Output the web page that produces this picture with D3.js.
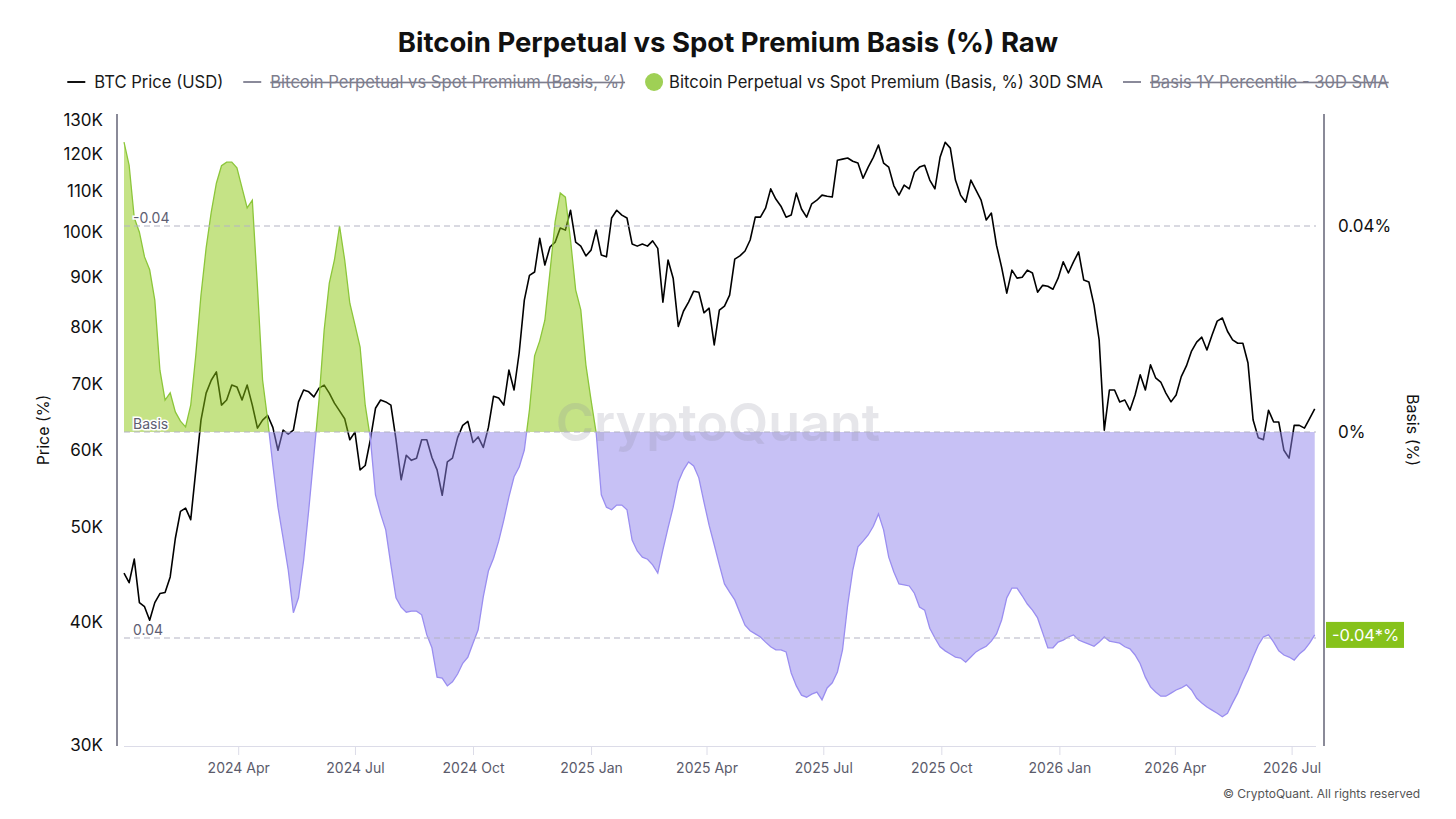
<!DOCTYPE html>
<html>
<head>
<meta charset="utf-8">
<script src="https://cdn.jsdelivr.net/npm/d3@7"></script>
<style>
    body { margin: 0; background: #fff; }
    svg { display: block; font-family: Inter, 'Noto Sans', Roboto, sans-serif; }
</style>
</head>
<body>
<div id="chart-area"></div>
<script>

// data: one point every 4 days from the start date
var startDate = '2024-01-03';
var endDate = '2026-07-20';
var stepDays = 4;

// BTC price, thousands of USD
var priceK = [
    44.9, 43.9, 46.4, 41.9, 41.5, 40.2, 41.9, 42.8, 42.9, 44.5,
    48.7, 51.9, 52.3, 50.9, 57.2, 64.3, 68.5, 70.6, 72.0, 66.6,
    67.4, 69.8, 69.5, 67.4, 69.8, 66.6, 63.1, 64.3, 65.0, 63.2,
    59.9, 62.8, 62.2, 62.8, 67.1, 69.0, 68.7, 67.9, 69.3, 69.8,
    68.5, 66.9, 65.7, 64.5, 61.4, 62.5, 57.2, 57.8, 61.4, 66.1,
    67.4, 67.1, 66.6, 61.4, 55.9, 59.2, 58.5, 58.8, 61.4, 61.4,
    58.9, 57.2, 53.9, 58.3, 58.8, 61.7, 63.5, 64.1, 61.0, 61.8,
    60.3, 63.2, 68.0, 67.7, 66.6, 72.3, 69.0, 75.3, 85.2, 90.3,
    91.0, 98.5, 92.5, 96.5, 97.6, 100.9, 100.4, 105.2, 97.6, 96.7,
    94.5, 95.8, 100.4, 94.7, 94.3, 103.3, 105.2, 104.0, 103.3, 97.2,
    96.7, 97.2, 96.7, 97.9, 96.2, 84.8, 93.6, 89.7, 80.1, 83.0,
    84.8, 87.0, 86.8, 82.7, 83.6, 76.7, 83.2, 84.0, 86.2, 93.8,
    94.5, 95.6, 98.1, 103.5, 103.5, 105.7, 110.6, 108.0, 106.2, 103.5,
    104.0, 109.5, 105.5, 103.5, 106.8, 107.7, 109.0, 108.7, 108.5, 118.3,
    118.6, 118.9, 118.0, 117.5, 113.4, 116.4, 119.1, 122.6, 117.5, 116.4,
    111.4, 109.0, 111.6, 110.6, 115.0, 116.4, 116.9, 112.9, 110.6, 119.1,
    123.4, 121.7, 112.9, 109.0, 107.2, 112.9, 110.3, 107.7, 102.8, 104.5,
    96.9, 92.0, 86.6, 91.4, 89.7, 89.9, 91.4, 90.8, 86.8, 88.2,
    88.0, 87.4, 89.7, 93.2, 90.8, 93.2, 95.4, 89.3, 88.9, 84.2,
    77.6, 62.8, 69.0, 69.0, 67.1, 67.4, 65.8, 68.2, 71.5, 69.0,
    73.2, 71.0, 70.3, 68.5, 67.1, 68.2, 71.2, 73.0, 75.6, 77.2,
    78.1, 75.8, 78.5, 81.1, 81.7, 79.2, 77.6, 77.0, 77.0, 73.5,
    64.3, 61.7, 61.4, 65.8, 64.0, 64.0, 59.9, 58.8, 63.5, 63.5,
    63.1, 64.5, 66.0
];

// Perpetual vs spot basis, 30D SMA, %
var basisSma = [
    0.0563, 0.0518, 0.0416, 0.0388, 0.0340, 0.0315, 0.0256, 0.0120, 0.0062, 0.0076,
    0.0039, 0.0021, 0.0010, 0.0052, 0.0150, 0.0266, 0.0357, 0.0427, 0.0483, 0.0517,
    0.0524, 0.0524, 0.0513, 0.0474, 0.0435, 0.0450, 0.0282, 0.0101, 0.0023, -0.0064,
    -0.0146, -0.0206, -0.0268, -0.0351, -0.0322, -0.0249, -0.0151, -0.0045, 0.0062, 0.0198,
    0.0289, 0.0334, 0.0400, 0.0334, 0.0250, 0.0208, 0.0165, 0.0052, -0.0012, -0.0122,
    -0.0159, -0.0190, -0.0258, -0.0322, -0.0340, -0.0350, -0.0348, -0.0348, -0.0355, -0.0394,
    -0.0419, -0.0476, -0.0478, -0.0493, -0.0485, -0.0470, -0.0449, -0.0437, -0.0410, -0.0384,
    -0.0320, -0.0270, -0.0245, -0.0212, -0.0171, -0.0126, -0.0087, -0.0068, -0.0035, 0.0043,
    0.0148, 0.0177, 0.0217, 0.0311, 0.0408, 0.0464, 0.0456, 0.0373, 0.0276, 0.0237,
    0.0130, 0.0062, -0.0002, -0.0122, -0.0146, -0.0151, -0.0142, -0.0142, -0.0151, -0.0210,
    -0.0231, -0.0243, -0.0247, -0.0258, -0.0274, -0.0229, -0.0186, -0.0146, -0.0097, -0.0074,
    -0.0058, -0.0066, -0.0089, -0.0136, -0.0181, -0.0219, -0.0258, -0.0295, -0.0311, -0.0326,
    -0.0351, -0.0375, -0.0386, -0.0392, -0.0398, -0.0408, -0.0417, -0.0423, -0.0423, -0.0427,
    -0.0468, -0.0493, -0.0511, -0.0515, -0.0509, -0.0505, -0.0520, -0.0497, -0.0487, -0.0466,
    -0.0423, -0.0336, -0.0268, -0.0223, -0.0212, -0.0200, -0.0183, -0.0159, -0.0190, -0.0243,
    -0.0272, -0.0295, -0.0297, -0.0299, -0.0313, -0.0340, -0.0346, -0.0381, -0.0400, -0.0417,
    -0.0425, -0.0431, -0.0437, -0.0439, -0.0447, -0.0437, -0.0427, -0.0421, -0.0416, -0.0406,
    -0.0392, -0.0365, -0.0322, -0.0303, -0.0303, -0.0318, -0.0334, -0.0346, -0.0361, -0.0390,
    -0.0419, -0.0419, -0.0408, -0.0404, -0.0398, -0.0394, -0.0404, -0.0408, -0.0412, -0.0416,
    -0.0408, -0.0398, -0.0406, -0.0408, -0.0410, -0.0417, -0.0421, -0.0433, -0.0450, -0.0476,
    -0.0495, -0.0505, -0.0513, -0.0513, -0.0507, -0.0501, -0.0497, -0.0491, -0.0501, -0.0517,
    -0.0526, -0.0534, -0.0540, -0.0546, -0.0553, -0.0546, -0.0526, -0.0507, -0.0483, -0.0462,
    -0.0437, -0.0414, -0.0398, -0.0394, -0.0408, -0.0425, -0.0433, -0.0437, -0.0443, -0.0431,
    -0.0423, -0.0410, -0.0394
];

var priceTicks = [30, 40, 50, 60, 70, 80, 90, 100, 110, 120, 130];
var basisTicks = [0, 0.04];
var refValues = [0.04, 0, -0.04];
var refLabels = ['-0.04', 'Basis', '0.04'];
var xTickDates = ['2024-04-01', '2024-07-01', '2024-10-01', '2025-01-01', '2025-04-01',
    '2025-07-01', '2025-10-01', '2026-01-01', '2026-04-01', '2026-07-01'];
var legendLabels = ['BTC Price (USD)', 'Bitcoin Perpetual vs Spot Premium (Basis, %)',
    'Bitcoin Perpetual vs Spot Premium (Basis, %) 30D SMA', 'Basis 1Y Percentile - 30D SMA'];
var legendHidden = [false, true, false, true];

var def = {
    width: 1456,
    height: 819,
    left: 124,
    right: 1316,
    top: 114,
    bottom: 746,
    green: '#8bc70d',
    purple: '#8f83eb'
};

var parse = d3.utcParse('%Y-%m-%d');
var start = parse(startDate);
var dates = priceK.map((d, i) => d3.utcDay.offset(start, i * stepDays));
// plain hyphen for negatives, like the original
var fmt2 = d3.formatLocale({decimal: '.', thousands: ',', grouping: [3], currency: ['$', ''], minus: '-'}).format('.2f');

var svg = d3.select('#chart-area').append('svg')
    .attr('width', def.width)
    .attr('height', def.height);

// scales
var x = d3.scaleUtc()
    .domain([start, parse(endDate)])
    .range([def.left, def.right]);

var yPrice = d3.scaleLog()
    .domain([30, 130])
    .range([745, 120]);

var yBasis = d3.scaleLinear()
    .domain([-0.04, 0.04])
    .range([638, 226]);

// title
svg.append('text')
    .attr('x', def.width / 2)
    .attr('y', 52)
    .attr('text-anchor', 'middle')
    .attr('font-size', 27.5)
    .attr('font-weight', 700)
    .attr('fill', '#111')
    .text('Bitcoin Perpetual vs Spot Premium Basis (%) Raw');

// legend
var legend = svg.append('g');
var lx = 0;
legendLabels.forEach((label, i) => {
    var row = legend.append('g').attr('transform', 'translate(' + lx + ',0)');
    var pad = 27;
    if (i === 2) {
        row.append('circle').attr('cx', 9).attr('r', 9).attr('fill', '#9fd055');
        pad = 24;
    } else {
        row.append('line')
            .attr('x1', 0).attr('x2', 18)
            .attr('stroke', legendHidden[i] ? '#8a8a9a' : '#111')
            .attr('stroke-width', 2);
    }
    var t = row.append('text')
        .attr('x', pad)
        .attr('dy', '0.35em')
        .attr('font-size', 16.6)
        .attr('fill', legendHidden[i] ? '#7d7d8d' : '#1a1a1a')
        .text(label);
    if (legendHidden[i]) t.attr('text-decoration', 'line-through');
    lx += pad + t.node().getComputedTextLength() + 20;
});
legend.attr('transform', 'translate(' + ((def.width - (lx - 20)) / 2) + ',82)');

// axes lines
svg.append('line')
    .attr('x1', 117).attr('x2', 117)
    .attr('y1', def.top).attr('y2', def.bottom)
    .attr('stroke', '#8a8a98').attr('stroke-width', 2);
svg.append('line')
    .attr('x1', 1324).attr('x2', 1324)
    .attr('y1', def.top).attr('y2', def.bottom)
    .attr('stroke', '#8a8a98').attr('stroke-width', 2);

// x axis
var xAx = d3.axisBottom(x)
    .tickValues(xTickDates.map(parse))
    .tickSize(9)
    .tickPadding(8)
    .tickFormat(d3.utcFormat('%Y %b'));
var xUnit = svg.append('g')
    .attr('transform', 'translate(0,' + def.bottom + ')')
    .call(xAx);
xUnit.select('.domain').attr('stroke', '#dcdce8').attr('d', 'M' + def.left + ',0.5H' + def.right);
xUnit.selectAll('.tick line').attr('stroke', '#dcdce8');
xUnit.selectAll('.tick text')
    .attr('font-size', 14)
    .attr('font-family', 'Inter, sans-serif')
    .attr('fill', '#5b5b6b');

// left axis labels
var yAx = d3.axisLeft(yPrice)
    .tickValues(priceTicks)
    .tickSize(0)
    .tickPadding(14)
    .tickFormat(d => d + 'K');
var yUnit = svg.append('g')
    .attr('transform', 'translate(117,0)')
    .call(yAx);
yUnit.select('.domain').remove();
yUnit.selectAll('.tick text')
    .attr('font-size', 17)
    .attr('font-family', 'Inter, sans-serif')
    .attr('fill', '#111');

// right axis labels
var bAx = d3.axisRight(yBasis)
    .tickValues(basisTicks)
    .tickSize(0)
    .tickPadding(14)
    .tickFormat(d => (d === 0 ? '0' : fmt2(d)) + '%');
var bUnit = svg.append('g')
    .attr('transform', 'translate(1324,0)')
    .call(bAx);
bUnit.select('.domain').remove();
bUnit.selectAll('.tick text')
    .attr('font-size', 17)
    .attr('font-family', 'Inter, sans-serif')
    .attr('fill', '#111');

// axis titles
svg.append('text')
    .attr('transform', 'translate(43,430) rotate(-90)')
    .attr('text-anchor', 'middle')
    .attr('dy', '0.35em')
    .attr('font-size', 16)
    .attr('fill', '#111')
    .text('Price (%)');
svg.append('text')
    .attr('transform', 'translate(1413,430) rotate(90)')
    .attr('text-anchor', 'middle')
    .attr('dy', '0.35em')
    .attr('font-size', 16)
    .attr('fill', '#111')
    .text('Basis (%)');

// price line
var priceLine = d3.line()
    .x((d, i) => x(dates[i]))
    .y(d => yPrice(d));
svg.append('path')
    .datum(priceK)
    .attr('fill', 'none')
    .attr('stroke', '#000')
    .attr('stroke-width', 1.6)
    .attr('stroke-linejoin', 'round')
    .attr('d', priceLine);

// basis area, green above zero, purple below
var zeroY = yBasis(0);
var defs = svg.append('defs');
defs.append('clipPath').attr('id', 'clip-pos')
    .append('rect')
    .attr('x', 0).attr('y', 0).attr('width', def.width).attr('height', zeroY);
defs.append('clipPath').attr('id', 'clip-neg')
    .append('rect')
    .attr('x', 0).attr('y', zeroY).attr('width', def.width).attr('height', def.height - zeroY);

var basisArea = d3.area()
    .x((d, i) => x(dates[i]))
    .y0(zeroY)
    .y1(d => yBasis(d));
var basisLine = d3.line()
    .x((d, i) => x(dates[i]))
    .y(d => yBasis(d));

[['clip-pos', def.green, '#8cc63a'], ['clip-neg', def.purple, '#9a8ef0']].forEach(dis => {
    var g = svg.append('g').attr('clip-path', 'url(#' + dis[0] + ')');
    g.append('path')
        .datum(basisSma)
        .attr('fill', dis[1])
        .attr('fill-opacity', 0.5)
        .attr('d', basisArea);
    g.append('path')
        .datum(basisSma)
        .attr('fill', 'none')
        .attr('stroke', dis[2])
        .attr('stroke-width', 1.3)
        .attr('d', basisLine);
});

// watermark
svg.append('text')
    .attr('x', 718)
    .attr('y', 441)
    .attr('text-anchor', 'middle')
    .attr('font-size', 52)
    .attr('font-weight', 600)
    .attr('fill', '#8c8ca0')
    .attr('fill-opacity', 0.22)
    .text('CryptoQuant');

// reference lines
refValues.forEach((v, i) => {
    svg.append('line')
        .attr('x1', def.left).attr('x2', def.right)
        .attr('y1', yBasis(v)).attr('y2', yBasis(v))
        .attr('stroke', '#b4b4c4')
        .attr('stroke-width', 1.2)
        .attr('stroke-dasharray', '6,4');
    svg.append('text')
        .attr('x', 133)
        .attr('y', yBasis(v) - 3)
        .attr('font-size', 14)
        .attr('fill', '#5e5e72')
        .attr('stroke', '#fff')
        .attr('stroke-width', 3)
        .attr('paint-order', 'stroke')
        .text(refLabels[i]);
});

// last value badge
var last = basisSma[basisSma.length - 1];
var badge = svg.append('g')
    .attr('transform', 'translate(1326,' + yBasis(last) + ')');
badge.append('rect')
    .attr('x', 0).attr('y', -13)
    .attr('width', 78).attr('height', 26)
    .attr('fill', '#86c21b');
badge.append('text')
    .attr('x', 6)
    .attr('dy', '0.36em')
    .attr('font-size', 16.5)
    .attr('fill', '#fff')
    .text(fmt2(last) + '*%');

// footer
svg.append('text')
    .attr('x', 1420)
    .attr('y', 798)
    .attr('text-anchor', 'end')
    .attr('font-size', 12)
    .attr('fill', '#555')
    .text('\u00A9 CryptoQuant. All rights reserved');

</script>
</body>
</html>
